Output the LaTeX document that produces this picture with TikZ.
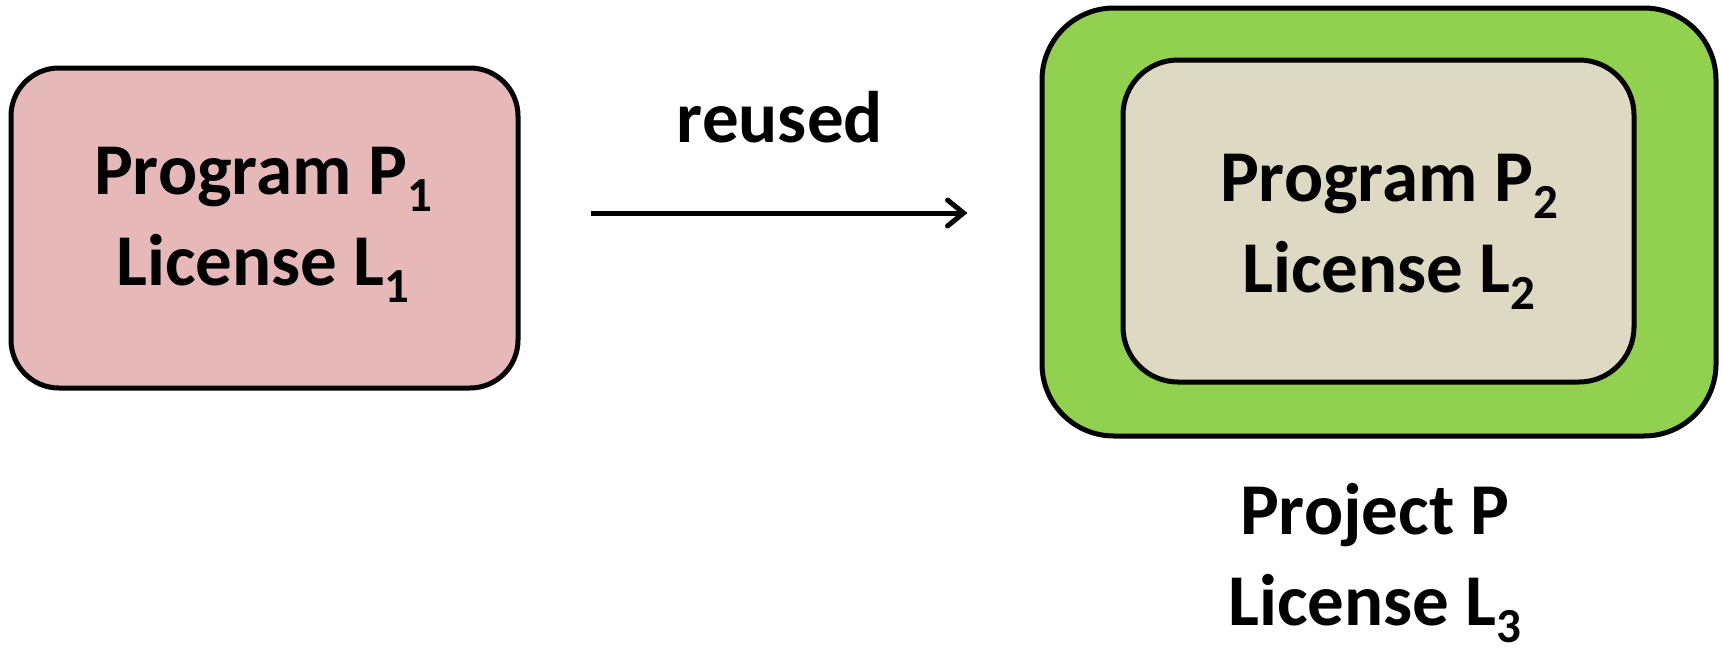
\documentclass[tikz,border=0pt]{standalone}
\usepackage{fontspec}
\setmainfont{Carlito}
\usetikzlibrary{arrows.meta}
\definecolor{progpink}{HTML}{E6B9B8}
\definecolor{projgreen}{HTML}{92D050}
\definecolor{progtan}{HTML}{DDD9C3}
\newcommand\lsub[1]{\raisebox{-0.24em}{\fontsize{49}{49}\selectfont #1}}
\tikzset{
    box/.style={draw=black, line width=5pt, inner sep=0pt},
    label text/.style={font=\fontsize{73}{91}\selectfont\bfseries, align=center, inner sep=0pt},
}
\begin{document}
\begin{tikzpicture}[x=1pt, y=-1pt]
    \useasboundingbox (0,0) rectangle (1723,653);
    \node[box, fill=progpink, rounded corners=48pt, minimum width=507pt, minimum height=320pt] (prog1) at (264.5,228) {};
    \node[label text] (prog1text) at (263,225) {Program P\lsub{1}\\License L\lsub{1}};
    \node[box, fill=projgreen, rounded corners=72pt, minimum width=674pt, minimum height=428pt] (proj) at (1379,222) {};
    \node[box, fill=progtan, rounded corners=55pt, minimum width=511pt, minimum height=322pt] (prog2) at (1378.5,221) {};
    \node[label text] (prog2text) at (1389,232) {Program P\lsub{2}\\License L\lsub{2}};
    \node[label text] (projtext) at (1375,563) {Project P\\License L\lsub{3}};
    \draw[line width=5pt, -{Straight Barb[length=16pt, width=26pt, line cap=round]}, shorten <=70pt, shorten >=72pt] (prog1.east |- 0,213) -- node[label text, above=67pt] (reused) {reused} (proj.west |- 0,213);
\end{tikzpicture}
\end{document}
